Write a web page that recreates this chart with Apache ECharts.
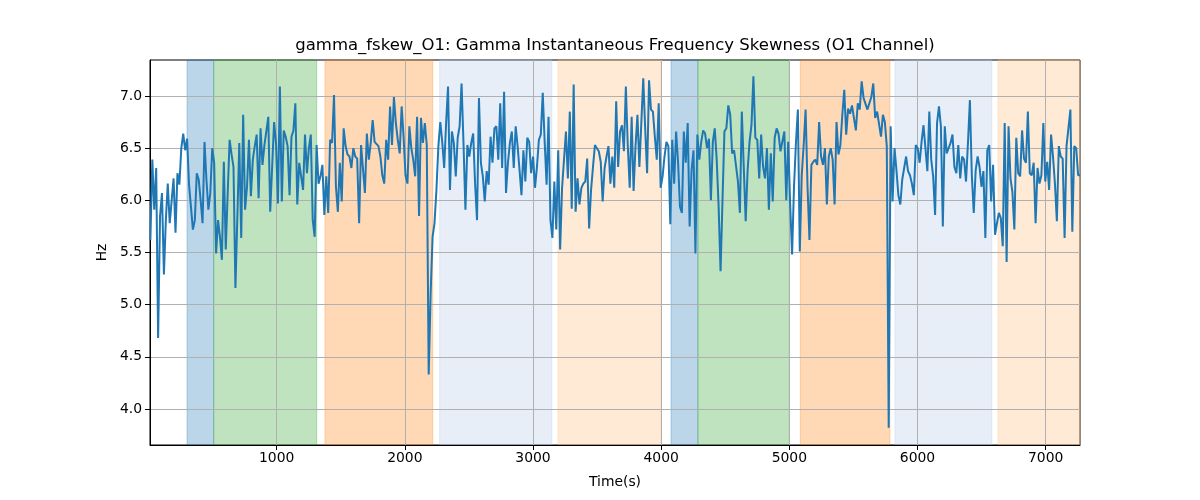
<!DOCTYPE html>
<html>
<head>
<meta charset="utf-8">
<script src="https://cdn.jsdelivr.net/npm/echarts@6/dist/echarts.min.js"></script>
<style>
html, body { margin: 0; padding: 0; background: #fff; }
#main { width: 1200px; height: 500px; }
</style>
</head>
<body>
<div id="main"></div>
<script>
var hzPart1 = [5.62,6.39,5.91,6.31,4.68,5.85,6.07,5.29,5.81,6.16,5.78,5.78,6.21,5.69,6.26,6.15,6.50,6.64,6.48,6.59,6.15,6.16,5.72,5.81,6.26,6.20,6.00,5.78,6.56,6.20,5.91,6.07,6.50,6.36,5.49,5.81,5.65,5.43,6.37,5.53,
  6.07,6.58,6.44,6.32,5.16,5.84,6.55,5.64,6.82,5.91,6.13,6.58,6.04,6.39,6.52,6.63,6.02,6.69,6.34,6.53,6.53,6.80,5.89,6.32,6.75,6.55,5.97,7.09,5.99,6.67,6.61,6.52,6.05,6.61,6.67,6.93,5.96,6.36,6.37,
  6.10,6.63,6.26,6.50,6.63,5.81,5.65,6.53,6.16,6.23,6.34,5.86,6.23,5.88,6.58,6.55,7.01,6.13,5.89,6.36,5.99,6.69,6.52,6.44,6.42,6.31,6.50,6.42,6.40,5.78,6.53,6.53,6.07,6.64,6.39,6.55,6.77,6.56,6.55,6.52];
var hzPart2 = [6.42,6.24,6.16,6.58,6.39,6.90,6.53,6.99,6.74,6.58,6.45,6.90,6.61,6.24,6.16,6.71,6.50,6.39,6.23,6.80,5.85,6.79,6.55,6.74,6.53,4.33,5.11,5.65,5.78,6.10,6.52,6.75,6.56,6.31,6.74,7.09,6.10,6.66,6.55,6.23,6.60,6.71,
  7.12,6.55,5.91,6.53,6.42,6.55,6.64,6.16,5.81,6.98,6.36,6.23,5.99,6.28,6.15,6.61,6.36,6.69,6.71,6.39,6.93,6.31,7.04,6.07,6.36,6.55,6.66,6.31,6.71,6.52,6.29,6.05,6.48,6.18,6.60,6.56,6.26,6.42,6.12,6.32,6.58,
  6.63,7.03,6.56,6.15,6.80,5.81,5.64,6.18,5.72,6.48,5.53,6.12,6.39,6.66,6.21,6.85,5.92,7.11,5.89,6.21,5.96,6.12,6.16,6.18,6.40,5.73,6.10,6.32,6.53,6.50,6.47,6.37,5.99,6.31,6.42,6.52,6.16,6.42,6.12,6.95];
var hzPart3 = [6.32,6.66,6.72,6.47,7.09,6.52,6.12,6.80,6.09,6.52,6.82,6.32,6.74,7.17,6.69,6.26,7.15,6.87,6.85,6.61,6.39,6.93,6.12,6.23,6.42,6.56,6.52,5.77,6.58,6.16,6.66,6.37,5.94,5.88,6.66,6.36,6.74,5.75,6.29,6.48,
  5.49,6.63,6.39,6.56,6.67,6.64,6.50,6.59,6.00,6.56,6.69,6.39,5.94,5.32,6.00,6.66,6.69,6.91,6.82,6.45,6.48,6.48,6.18,5.88,6.85,6.32,5.80,6.29,6.56,6.72,7.19,6.60,6.58,6.21,6.63,6.32,6.21,6.50,5.91,6.45,
  5.99,6.60,6.69,6.64,6.47,6.47,6.66,6.00,6.56,5.97,5.48,6.13,6.55,6.87,5.51,6.24,6.53,6.87,6.13,5.62,6.34,6.37,6.39,6.34,6.75,6.42,6.34,6.50,5.96,6.42,6.50,6.39,5.96,6.75,6.44,6.53,6.82,7.06,6.63,6.88,6.83];
var hzPart4 = [6.91,6.79,6.67,6.93,6.87,7.14,6.98,6.98,6.87,6.88,6.99,7.12,6.79,6.85,6.85,6.61,6.82,6.75,6.52,3.82,6.71,5.99,6.50,6.29,6.05,5.96,6.20,6.20,6.42,6.28,6.24,6.16,6.05,6.53,6.50,6.36,6.56,6.72,6.71,6.28,6.85,
  6.39,6.23,5.86,6.74,6.90,6.71,5.75,6.71,6.45,6.44,6.55,6.63,6.32,6.26,6.53,6.21,6.42,6.39,6.18,6.55,6.96,6.24,5.88,6.29,6.42,6.32,6.13,6.28,5.64,6.48,6.53,5.99,6.34,5.67,5.78,5.88,5.83,5.56,6.74,5.41,
  6.71,6.21,6.08,5.72,6.60,6.26,6.23,6.67,6.40,6.36,6.85,6.26,6.24,6.36,5.78,6.31,6.16,6.24,6.74,6.18,6.37,6.10,6.63,6.42,6.16,5.80,6.52,6.42,6.40,5.64,6.52,6.53,6.87,5.70,6.52,6.50,6.24,6.24];

var tStart = 15;     // s, first sample
var tStep = 15.08;   // s between samples
var xMin = 12, xMax = 7268;
var yMin = 3.655, yMax = 7.345;

var xTicks = [1000, 2000, 3000, 4000, 5000, 6000, 7000];
var yTicks = [4.0, 4.5, 5.0, 5.5, 6.0, 6.5, 7.0];

// shaded stages
var bandStart = [301, 509, 1377, 2272, 3195, 4077, 4287, 5086, 5824, 6628];
var bandEnd   = [509, 1313, 2218, 3148, 3995, 4287, 5000, 5785, 6581, 7268];
var bandColor = ['rgba(31,119,180,0.3)', 'rgba(44,160,44,0.3)', 'rgba(255,127,14,0.3)', 'rgba(174,199,232,0.3)', 'rgba(255,187,120,0.3)',
                 'rgba(31,119,180,0.3)', 'rgba(44,160,44,0.3)', 'rgba(255,127,14,0.3)', 'rgba(174,199,232,0.3)', 'rgba(255,187,120,0.3)'];

var hz = hzPart1.concat(hzPart2, hzPart3, hzPart4);
var lineData = hz.map(function (v, i) { return [tStart + i * tStep, v]; });

var areas = bandStart.map(function (s, i) {
  return [
    { xAxis: s, itemStyle: { color: bandColor[i], borderColor: bandColor[i], borderWidth: 1 } },
    { xAxis: bandEnd[i] }
  ];
});

var font = 'DejaVu Sans';
var myChart = echarts.init(document.getElementById('main'));

var option = {
  animation: false,
  backgroundColor: '#fff',
  graphic: [{
    type: 'text',
    x: 615, y: 46,
    style: {
      text: 'gamma_fskew_O1: Gamma Instantaneous Frequency Skewness (O1 Channel)',
      fontFamily: font, fontSize: 16.5, fill: '#000',
      textAlign: 'center', textVerticalAlign: 'middle'
    }
  }],
  grid: {
    left: 150, right: 120, top: 60, bottom: 55,
    show: true, borderColor: '#000', borderWidth: 1, backgroundColor: 'transparent'
  },
  xAxis: {
    type: 'value', min: xMin, max: xMax, z: 2,
    name: 'Time(s)', nameLocation: 'middle', nameGap: 30,
    nameTextStyle: { fontFamily: font, fontSize: 13.9, color: '#000' },
    axisLine: { show: true, lineStyle: { color: '#000', width: 1 } },
    axisTick: { show: true, length: 5, lineStyle: { color: '#000' }, customValues: xTicks },
    axisLabel: {
      fontFamily: font, fontSize: 13.9, color: '#000', margin: 6, customValues: xTicks,
      formatter: function (v) { return String(v); }
    },
    splitLine: { show: true, lineStyle: { color: '#b0b0b0', width: 1 } }
  },
  yAxis: {
    type: 'value', min: yMin, max: yMax, z: 2,
    name: 'Hz', nameLocation: 'middle', nameGap: 37, nameRotate: 90,
    nameTextStyle: { fontFamily: font, fontSize: 13.9, color: '#000' },
    axisLine: { show: true, lineStyle: { color: '#000', width: 1 } },
    axisTick: { show: true, length: 5, lineStyle: { color: '#000' }, customValues: yTicks },
    axisLabel: {
      fontFamily: font, fontSize: 13.9, color: '#000', margin: 8, customValues: yTicks,
      formatter: function (v) { return v.toFixed(1); }
    },
    splitLine: { show: true, lineStyle: { color: '#b0b0b0', width: 1 } }
  },
  series: [
    {
      name: 'stages',
      type: 'line',
      z: 1,
      data: lineData,
      symbol: 'none',
      lineStyle: { width: 0, opacity: 0 },
      silent: true,
      markArea: { silent: true, data: areas }
    },
    {
      name: 'gamma_fskew_O1',
      type: 'line',
      z: 3,
      data: lineData,
      symbol: 'none',
      lineStyle: { color: '#1f77b4', width: 2 },
      itemStyle: { color: '#1f77b4' }
    }
  ]
};

option && myChart.setOption(option);
</script>
</body>
</html>
